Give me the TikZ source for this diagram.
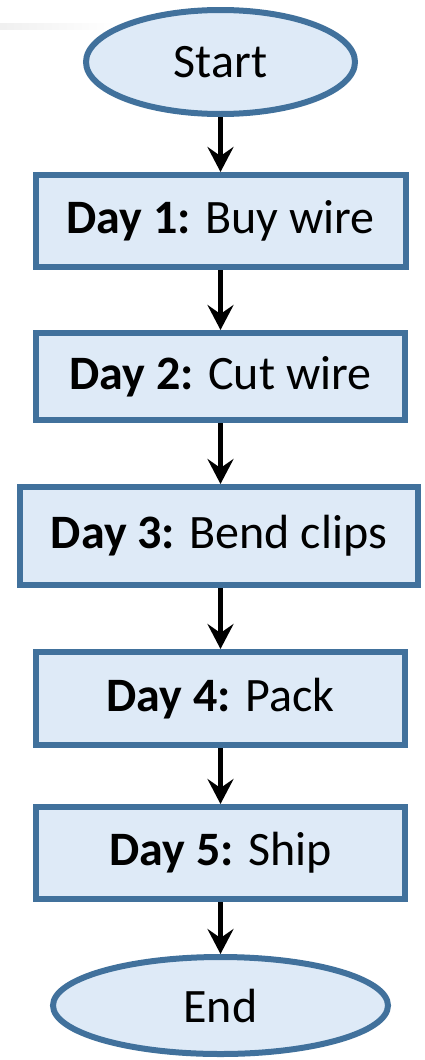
\documentclass[tikz,border=0pt]{standalone}
\usepackage{fontspec}
\setmainfont{Carlito}
\usepackage{xcolor}
\usepackage{tikz}
\usetikzlibrary{shapes.geometric}
\usetikzlibrary{arrows.meta}
\usetikzlibrary{shapes}

\definecolor{edgeblue}{RGB}{65,113,156}
\definecolor{fillblue}{RGB}{222,234,247}

\tikzset{
    terminal/.style = {ellipse, draw = edgeblue, fill = fillblue, line width = 6pt, inner sep = 0pt},
    dayproc/.style = {rectangle, draw = edgeblue, fill = fillblue, line width = 6pt, inner sep = 0pt},
    flow/.style = {-{Stealth[length = 25pt, width = 26pt, inset = 9pt]}, line width = 4.5pt, black}
}

\begin{document}
\begin{tikzpicture}[x = 1pt, y = -1pt, font = \fontsize{48}{54}\selectfont]
        \useasboundingbox (0, 0) rectangle (424, 1060);

        % faint line top left
        \shade[left color = gray!12, right color = white] (0, 23) rectangle (115, 29);

        \node[terminal, minimum width = 269pt, minimum height = 104pt] (start) at (220.5, 62) {Start};

        \node[dayproc, minimum width = 370pt, minimum height = 92pt] (day1) at (220.5, 221) {\textbf{Day 1:} Buy wire};
        \node[dayproc, minimum width = 369pt, minimum height = 87pt] (day2) at (220.5, 376.5) {\textbf{Day 2:} Cut wire};
        \node[dayproc, minimum width = 398pt, minimum height = 98pt] (day3) at (219, 536) {\textbf{Day 3:} Bend clips};
        \node[dayproc, minimum width = 369pt, minimum height = 93pt] (day4) at (220.5, 698.5) {\textbf{Day 4:} Pack};
        \node[dayproc, minimum width = 369pt, minimum height = 92pt] (day5) at (220.5, 853) {\textbf{Day 5:} Ship};

        \node[terminal, minimum width = 335pt, minimum height = 97pt] (end) at (220.5, 1005.5) {End};

        \draw[flow] (start) -- (day1);
        \draw[flow] (day1) -- (day2);
        \draw[flow] (day2) -- (day2 |- day3.north);
        \draw[flow] (day3.south -| day4) -- (day4);
        \draw[flow] (day4) -- (day5);
        \draw[flow] (day5) -- (end);
    \end{tikzpicture}
\end{document}
